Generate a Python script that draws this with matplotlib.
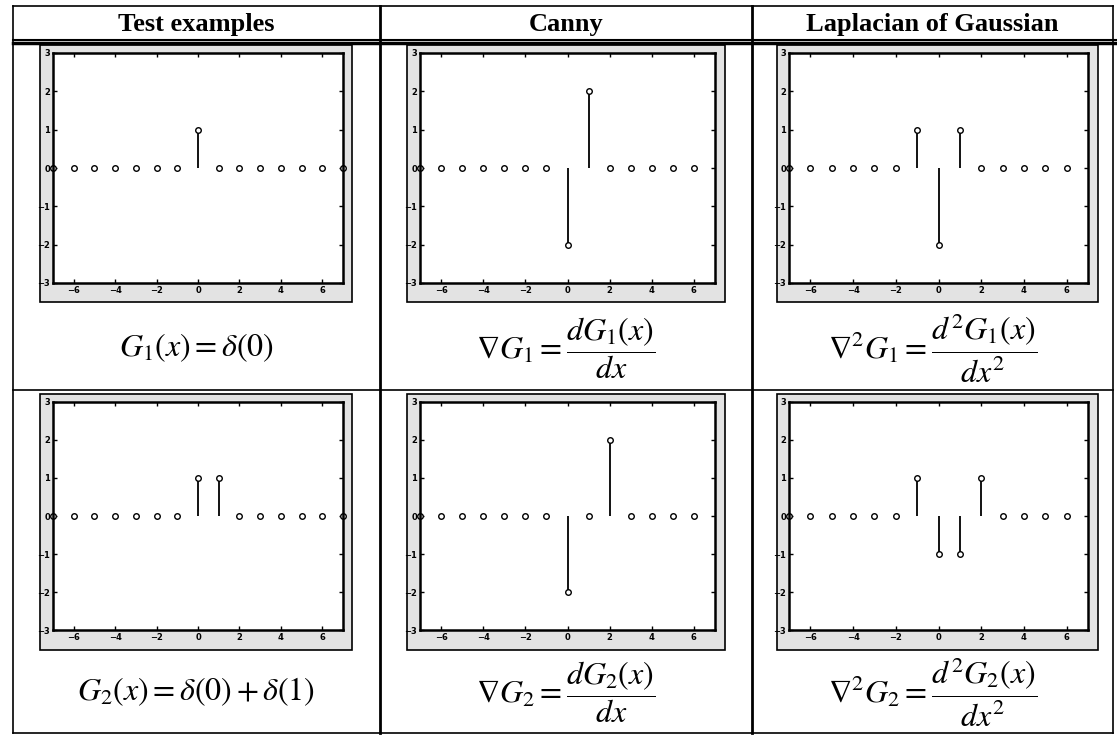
import matplotlib
matplotlib.use("Agg")
import matplotlib.pyplot as plt
from matplotlib.patches import Rectangle

W, H = 1117, 735

plt.rcParams["mathtext.fontset"] = "stix"
plt.rcParams["font.family"] = ["Liberation Serif", "DejaVu Serif"]

# sample positions
x_test = [-7, -6, -5, -4, -3, -2, -1, 0, 1, 2, 3, 4, 5, 6, 7]
x_deriv = [-7, -6, -5, -4, -3, -2, -1, 0, 1, 2, 3, 4, 5, 6]

# row 1: G1 = delta(0)
test_g1 = [0, 0, 0, 0, 0, 0, 0, 1, 0, 0, 0, 0, 0, 0, 0]
canny_g1 = [0, 0, 0, 0, 0, 0, 0, -2, 2, 0, 0, 0, 0, 0]
log_g1 = [0, 0, 0, 0, 0, 0, 1, -2, 1, 0, 0, 0, 0, 0]

# row 2: G2 = delta(0) + delta(1)
test_g2 = [0, 0, 0, 0, 0, 0, 0, 1, 1, 0, 0, 0, 0, 0, 0]
canny_g2 = [0, 0, 0, 0, 0, 0, 0, -2, 0, 2, 0, 0, 0, 0]
log_g2 = [0, 0, 0, 0, 0, 0, 1, -1, -1, 1, 0, 0, 0, 0]

headers = ["Test examples", "Canny", "Laplacian of Gaussian"]
formulas = [
    [r"$G_1(x) = \delta(0)$",
     r"$\nabla G_1 = \dfrac{dG_1(x)}{dx}$",
     r"$\nabla^2 G_1 = \dfrac{d^2G_1(x)}{dx^2}$"],
    [r"$G_2(x) = \delta(0) + \delta(1)$",
     r"$\nabla G_2 = \dfrac{dG_2(x)}{dx}$",
     r"$\nabla^2 G_2 = \dfrac{d^2G_2(x)}{dx^2}$"],
]
x_ticks = [-6, -4, -2, 0, 2, 4, 6]
y_ticks = [-3, -2, -1, 0, 1, 2, 3]

# table geometry in pixels
col_lines = [13, 380, 752, 1113]
axes_x = [(53, 343), (420, 715), (789, 1088)]
frame_x = [(40, 352), (407, 725), (777, 1098)]
axes_y = [(53, 283), (402, 630)]
frame_y = [(45, 302), (394, 650)]
formula_y = [348, 692]


def rect(x0, x1, y0, y1):
    return [x0 / W, 1 - y1 / H, (x1 - x0) / W, (y1 - y0) / H]


fig = plt.figure(figsize=(W / 100, H / 100), dpi=100)
base = fig.add_axes([0, 0, 1, 1])
base.set_xlim(0, W)
base.set_ylim(H, 0)
base.axis("off")

# table lines
base.plot([col_lines[0], col_lines[-1]], [6, 6], color="black", lw=1.2)
base.plot([col_lines[0], W], [40, 40], color="black", lw=1.5)
base.plot([col_lines[0], W], [43, 43], color="black", lw=2.5)
base.plot([col_lines[0], col_lines[-1]], [390, 390], color="black", lw=1.2)
base.plot([col_lines[0], col_lines[-1]], [733, 733], color="black", lw=1.2)
for i, cx in enumerate(col_lines):
    base.plot([cx, cx], [6, 733], color="black", lw=2.0 if i in (1, 2) else 1.2)

for i, name in enumerate(headers):
    cx = (col_lines[i] + col_lines[i + 1]) / 2
    base.text(cx, 24, name, ha="center", va="center", fontsize=19, fontweight="bold")

panels = [[test_g1, canny_g1, log_g1], [test_g2, canny_g2, log_g2]]
xs = [x_test, x_deriv, x_deriv]

for r in range(2):
    for c in range(3):
        fx0, fx1 = frame_x[c]
        fy0, fy1 = frame_y[r]
        base.add_patch(Rectangle((fx0, fy0), fx1 - fx0, fy1 - fy0,
                                 facecolor="0.89", edgecolor="black", lw=1.2))
        ax = fig.add_axes(rect(*axes_x[c], *axes_y[r]))
        ax.set_facecolor("white")
        ml, sl, bl = ax.stem(xs[c], panels[r][c], linefmt="k-", markerfmt="ko", basefmt=" ")
        plt.setp(sl, linewidth=1.3)
        plt.setp(ml, markersize=4, markerfacecolor="white", markeredgewidth=1.0, clip_on=False)
        ax.set_xlim(-7, 7)
        ax.set_ylim(-3, 3)
        ax.set_xticks(x_ticks)
        ax.set_yticks(y_ticks)
        ax.tick_params(direction="in", length=3, width=1, labelsize=6, pad=2,
                       top=True, right=True)
        for lab in ax.get_xticklabels() + ax.get_yticklabels():
            lab.set_fontweight("bold")
            lab.set_family("DejaVu Sans")
        for sp in ax.spines.values():
            sp.set_linewidth(1.8)

        cx = (col_lines[c] + col_lines[c + 1]) / 2
        base.text(cx, formula_y[r], formulas[r][c], ha="center", va="center", fontsize=23)

fig.savefig("out.png", dpi=100)
